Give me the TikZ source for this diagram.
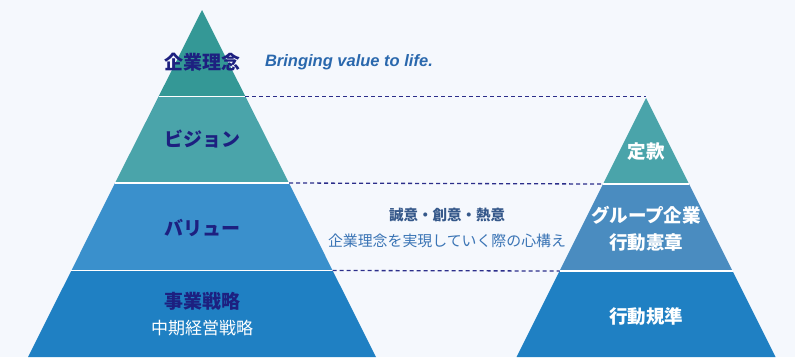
\documentclass[tikz,border=0pt]{standalone}
\usepackage{fontspec}
\setmainfont{Noto Sans CJK JP}
\newfontfamily\latinfont{Liberation Sans}
\usetikzlibrary{positioning}

\definecolor{pagebg}{HTML}{F5F8FD}
\definecolor{tealdark}{HTML}{349896}
\definecolor{teallight}{HTML}{4AA4AA}
\definecolor{bluemid}{HTML}{3A90CC}
\definecolor{bluedeep}{HTML}{1F80C3}
\definecolor{bluegrey}{HTML}{4A8CC0}
\definecolor{navy}{HTML}{1D2080}
\definecolor{sloganblue}{HTML}{2A68AD}
\definecolor{mottoblue}{HTML}{35588A}
\definecolor{notetext}{HTML}{3A74B5}
\definecolor{dashnavy}{HTML}{2B2E8A}

\begin{document}
\begin{tikzpicture}[
    x=1pt, y=-1pt,
    divider/.style={draw=white, line width=1.5pt},
    darklabel/.style={font=\fontsize{19}{20}\selectfont\bfseries, text=navy},
    whitelabel/.style={font=\fontsize{18.5}{27}\selectfont\bfseries, text=white, align=center},
    sublabel/.style={font=\fontsize{17}{18}\selectfont, text=white},
    guide/.style={draw=dashnavy, line width=1.3pt, dash pattern=on 4pt off 3pt}
]
    % Page
    \fill[pagebg] (0,0) rectangle (795,357);

    % Left pyramid corners
    \coordinate (LA) at (202,10);
    \coordinate (L1l) at (158.6,96.5);
    \coordinate (L1r) at (245.4,96.5);
    \coordinate (L2l) at (115,183);
    \coordinate (L2r) at (289,183);
    \coordinate (L3l) at (71.4,270.5);
    \coordinate (L3r) at (332.6,270.5);
    \coordinate (L4l) at (28,357);
    \coordinate (L4r) at (376,357);

    % Right pyramid corners
    \coordinate (RA) at (646,98);
    \coordinate (R1l) at (603,184);
    \coordinate (R1r) at (689,184);
    \coordinate (R2l) at (559.5,271);
    \coordinate (R2r) at (732.5,271);
    \coordinate (R3l) at (516.5,357);
    \coordinate (R3r) at (775.5,357);

    % Left bands
    \fill[tealdark] (LA) -- (L1l) -- (L1r) -- cycle;
    \fill[teallight] (L1l) -- (L2l) -- (L2r) -- (L1r) -- cycle;
    \fill[bluemid] (L2l) -- (L3l) -- (L3r) -- (L2r) -- cycle;
    \fill[bluedeep] (L3l) -- (L4l) -- (L4r) -- (L3r) -- cycle;
    \draw[divider] (L1l) -- (L1r);
    \draw[divider] (L2l) -- (L2r);
    \draw[divider] (L3l) -- (L3r);

    % Right bands
    \fill[teallight] (RA) -- (R1l) -- (R1r) -- cycle;
    \fill[bluegrey] (R1l) -- (R2l) -- (R2r) -- (R1r) -- cycle;
    \fill[bluedeep] (R2l) -- (R3l) -- (R3r) -- (R2r) -- cycle;
    \draw[divider] (R1l) -- (R1r);
    \draw[divider] (R2l) -- (R2r);

    % Dashed guides
    \draw[guide] (L1r) -- (L1r -| RA);
    \draw[guide] (L2r) -- (R1l);
    \draw[guide] (L3r) -- (R2l);

    % Left labels
    \node[darklabel] (rinen) at (202,62) {企業理念};
    \node[right=18pt of rinen, font=\latinfont\fontsize{16.5}{18}\selectfont\bfseries\itshape, text=sloganblue] (slogan) {Bringing value to life.};
    \node[darklabel] (vision) at (202,139) {ビジョン};
    \node[darklabel] (value) at (202,228) {バリュー};
    \node[darklabel] (senryaku) at (202,301) {事業戦略};
    \node[sublabel] (chuki) at (202,328) {中期経営戦略};

    % Middle note
    \node[font=\fontsize{14.5}{16}\selectfont\bfseries, text=mottoblue] (motto) at (447,215) {誠意・創意・熱意};
    \node[font=\fontsize{14.9}{16}\selectfont, text=notetext] (kokoro) at (447,241) {企業理念を実現していく際の心構え};

    % Right labels
    \node[whitelabel] (teikan) at (646,152) {定款};
    \node[whitelabel] (kensho) at (646,229) {グループ企業\\行動憲章};
    \node[whitelabel] (kijun) at (646,316) {行動規準};
\end{tikzpicture}
\end{document}
